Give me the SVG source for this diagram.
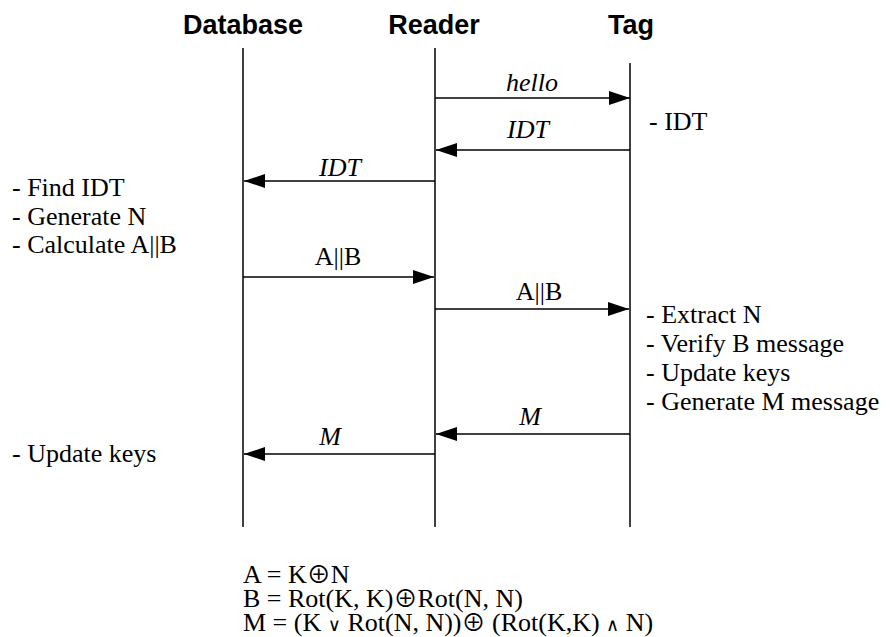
<svg xmlns="http://www.w3.org/2000/svg" width="892" height="637" viewBox="0 0 892 637">
<style>
.hdr{font-family:"Liberation Sans",Arial,sans-serif;font-weight:bold;font-size:27px;fill:#000;text-anchor:middle}
.t{font-family:"Liberation Serif","Times New Roman",serif;font-size:26px;fill:#000}
.lbl{font-family:"Liberation Serif","Times New Roman",serif;font-size:26px;fill:#000;text-anchor:middle}
.it{font-style:italic}
.op{font-family:"Noto Sans CJK SC","DejaVu Sans",sans-serif;font-size:24px}
.lg{font-family:"DejaVu Sans",sans-serif;font-size:18px}
.life{stroke:#000;stroke-width:1.5;fill:none}
.msg{stroke:#000;stroke-width:1.5;fill:none;marker-end:url(#ah)}
</style>
<defs>
<marker id="ah" markerUnits="userSpaceOnUse" markerWidth="21" markerHeight="14" refX="21" refY="7" orient="auto">
<path d="M0,0 L21,7 L0,14 z" fill="#000"/>
</marker>
</defs>
<rect width="892" height="637" fill="#fff"/>
<g id="database">
<text class="hdr" x="243" y="34">Database</text>
<line class="life" x1="243" y1="48" x2="243" y2="527"/>
</g>
<g id="reader">
<text class="hdr" x="434" y="34">Reader</text>
<line class="life" x1="435" y1="48" x2="435" y2="527"/>
</g>
<g id="tag">
<text class="hdr" x="631" y="34">Tag</text>
<line class="life" x1="630" y1="63" x2="630" y2="527"/>
</g>
<g id="connectors">
<line class="msg" x1="435" y1="98" x2="630" y2="98"/>
<line class="msg" x1="630" y1="150" x2="436" y2="150"/>
<line class="msg" x1="435" y1="181" x2="244" y2="181"/>
<line class="msg" x1="243" y1="277" x2="434" y2="277"/>
<line class="msg" x1="435" y1="309" x2="629" y2="309"/>
<line class="msg" x1="630" y1="434" x2="436" y2="434"/>
<line class="msg" x1="435" y1="454" x2="244" y2="454"/>
</g>
<g id="labels">
<text class="lbl it" x="532" y="91">hello</text>
<text class="lbl it" x="528" y="138">IDT</text>
<text class="lbl it" x="340" y="176">IDT</text>
<text class="lbl" x="338" y="265">A||B</text>
<text class="lbl" x="539" y="300">A||B</text>
<text class="lbl it" x="530" y="425">M</text>
<text class="lbl it" x="330" y="445">M</text>
</g>
<g id="notes">
<text class="t" x="649" y="130">- IDT</text>
<text class="t" x="12" y="196">- Find IDT</text>
<text class="t" x="12" y="225">- Generate N</text>
<text class="t" x="12" y="253">- Calculate A||B</text>
<text class="t" x="646" y="323">- Extract N</text>
<text class="t" x="646" y="352">- Verify B message</text>
<text class="t" x="646" y="381">- Update keys</text>
<text class="t" x="646" y="410">- Generate M message</text>
<text class="t" x="12" y="462">- Update keys</text>
</g>
<g id="formulas">
<text class="t" x="243" y="583">A = K<tspan class="op">⊕</tspan>N</text>
<text class="t" x="243" y="607">B = Rot(K, K)<tspan class="op">⊕</tspan>Rot(N, N)</text>
<text class="t" x="243" y="631">M = (K <tspan class="lg">∨</tspan> Rot(N, N))<tspan class="op">⊕</tspan> (Rot(K,K) <tspan class="lg">∧</tspan> N)</text>
</g>
</svg>
